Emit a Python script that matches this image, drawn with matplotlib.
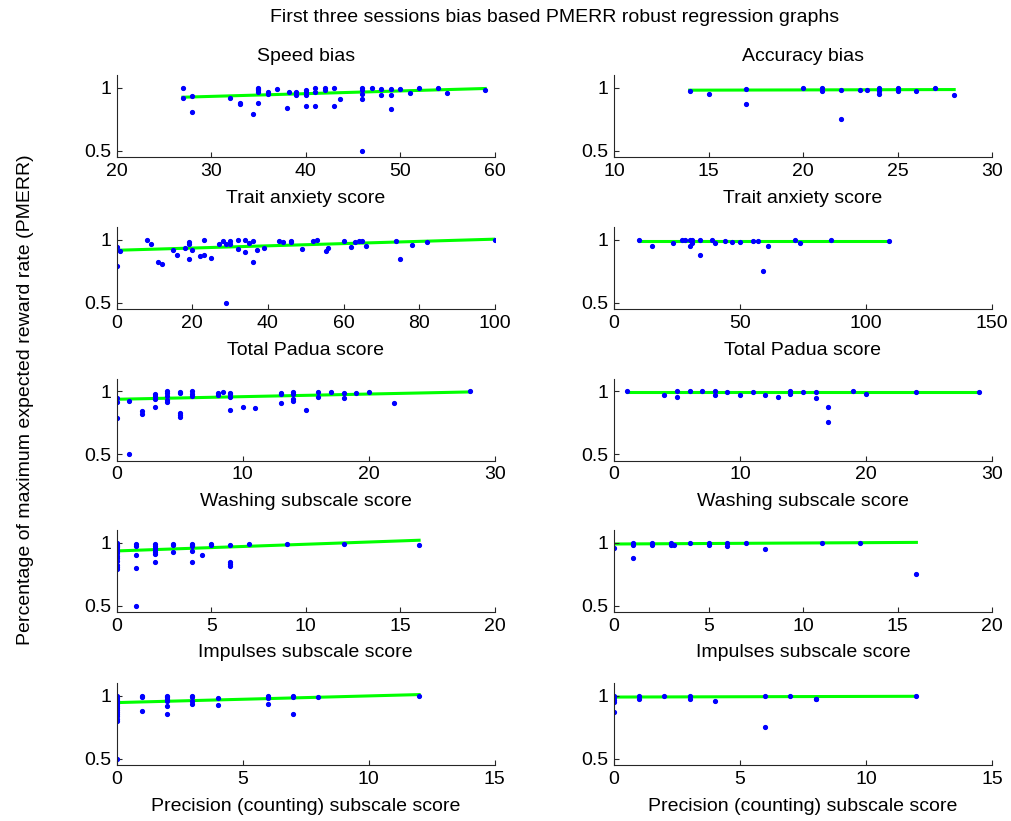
import matplotlib
matplotlib.use('Agg')
import matplotlib.pyplot as plt
import numpy as np

plt.rcParams['font.family'] = ['Liberation Sans', 'DejaVu Sans']

# Speed bias / Trait anxiety
sp_anx_x = [27, 27, 28, 28, 32, 33, 33, 34.4, 35, 35, 35, 35, 35, 36, 36, 37, 38, 38.2, 39, 39,
            40, 40, 40, 40, 41, 41, 41, 42, 42, 43, 43, 43.6, 46, 46, 46, 46, 46, 47, 48, 48,
            49, 49, 49, 50, 51, 52, 54, 55, 59]
sp_anx_y = [1.0, 0.918, 0.934, 0.81, 0.92, 0.88, 0.875, 0.795, 1.0, 0.99, 0.98, 0.97, 0.884, 0.97, 0.95, 0.995, 0.837, 0.97, 0.97, 0.94,
            0.98, 0.966, 0.945, 0.86, 1.0, 0.97, 0.858, 1.0, 0.98, 1.0, 0.858, 0.913, 1.0, 0.98, 0.95, 0.91, 0.5, 1.0, 0.995, 0.94,
            0.995, 0.947, 0.834, 0.995, 0.96, 1.0, 0.997, 0.963, 0.98]

# Accuracy bias / Trait anxiety
ac_anx_x = [14, 15, 17, 17, 20, 21, 21, 22, 22, 23, 23.4, 24, 24, 24, 25, 25, 26, 27, 28]
ac_anx_y = [0.974, 0.953, 0.995, 0.87, 1.0, 1.0, 0.974, 0.987, 0.753, 0.987, 0.987, 1.0, 0.974, 0.955, 1.0, 0.974, 0.974, 1.0, 0.947]

# Speed bias / Total Padua
sp_pad_x = [0, 0, 1, 8, 9, 11, 12, 15, 16, 18, 19, 19, 19, 20, 22, 23, 23, 25, 27, 28, 29, 29, 30, 30,
            32, 32, 34, 34, 35, 36, 36, 37, 39, 43, 44, 46, 46, 49, 52, 53, 55.4, 56, 60, 62, 63, 64, 65, 66,
            74, 75, 78, 82, 100]
sp_pad_y = [0.947, 0.795, 0.91, 1.0, 0.968, 0.827, 0.806, 0.918, 0.883, 0.939, 0.987, 0.968, 0.851, 0.918, 0.872, 0.997, 0.88, 0.856, 0.965, 0.995, 0.5, 0.965, 0.99, 0.97,
            0.997, 0.93, 0.997, 0.907, 0.973, 0.99, 0.822, 0.923, 0.936, 0.992, 0.981, 0.992, 0.98, 0.93, 0.99, 0.997, 0.91, 0.939, 0.995, 0.944, 0.987, 0.99, 0.995, 0.955,
            0.99, 0.851, 0.96, 0.987, 1.0]

# Accuracy bias / Total Padua
ac_pad_x = [10, 15, 23.5, 27, 28, 30, 30, 31, 31, 34, 34, 39, 40, 44, 47, 50, 55, 57, 59, 61, 72, 74, 86, 109]
ac_pad_y = [1.0, 0.955, 0.979, 1.0, 1.0, 1.0, 0.955, 0.979, 1.0, 1.0, 0.877, 1.0, 0.976, 0.992, 0.981, 0.984, 0.989, 0.989, 0.751, 0.949, 1.0, 0.973, 1.0, 0.995]

# Speed bias / Washing
sp_wash_x = [0, 0, 0, 1, 1, 2, 2, 3, 3, 3, 3, 4, 4, 4, 4, 4, 5, 5, 5, 5, 5, 6, 6, 6, 8, 8, 8.4,
             9, 9, 9, 9, 10, 11, 13, 13, 13, 14, 14, 14, 14, 15, 16, 16, 17, 18, 18, 19, 20, 22, 28]
sp_wash_y = [0.947, 0.916, 0.79, 0.921, 0.5, 0.847, 0.82, 0.979, 0.963, 0.942, 0.879, 1.0, 0.984, 0.963, 0.932, 0.916,
             0.995, 0.987, 0.832, 0.816, 0.8, 1.0, 0.979, 0.96, 0.99, 0.968, 0.992,
             0.99, 0.976, 0.958, 0.855, 0.879, 0.871, 0.99, 0.976, 0.908, 0.997, 0.982, 0.939, 0.924, 0.853,
             0.995, 0.958, 0.995, 0.987, 0.945, 0.987, 0.995, 0.908, 1.0]

# Accuracy bias / Washing
ac_wash_x = [1, 4, 5, 5, 6, 7, 8, 8, 9, 10, 11, 12, 13, 14, 14, 15, 16, 16, 17, 17, 19, 20, 24, 29]
ac_wash_y = [1.0, 0.973, 1.0, 0.957, 1.0, 1.0, 1.0, 0.973, 0.995, 0.973, 0.997, 0.968, 0.955, 1.0, 0.979, 0.992,
             0.995, 0.95, 0.872, 0.753, 1.0, 0.981, 0.997, 0.995]

# Speed bias / Impulses
sp_imp_x = [0] * 13 + [1] * 5 + [2] * 7 + [3] * 3 + [4] * 5 + [4.5, 5, 5, 6, 6, 6, 6, 7, 9, 12, 16]
sp_imp_y = [0.995, 0.984, 0.974, 0.963, 0.947, 0.931, 0.915, 0.894, 0.878, 0.857, 0.825, 0.804, 0.79,
            0.987, 0.971, 0.902, 0.802, 0.5,
            0.992, 0.976, 0.96, 0.939, 0.923, 0.907, 0.849,
            0.992, 0.981, 0.929,
            0.992, 0.981, 0.971, 0.934, 0.849,
            0.905, 0.992, 0.979, 0.981, 0.849, 0.831, 0.815, 0.992, 0.992, 0.989, 0.984]

# Accuracy bias / Impulses
ac_imp_x = [0, 1, 1, 1, 2, 2, 3, 3, 3.2, 4, 5, 5, 6, 6, 7, 8, 11, 13, 16]
ac_imp_y = [0.957, 1.0, 0.984, 0.876, 1.0, 0.981, 0.995, 0.978, 0.978, 0.997, 1.0, 0.984, 1.0, 0.973, 1.0, 0.952, 1.0, 0.995, 0.753]

# Speed bias / Precision
sp_pre_x = [0] * 14 + [1] * 3 + [2] * 6 + [3] * 4 + [4, 4, 6, 6, 6, 7, 7, 7, 8, 12]
sp_pre_y = [1.0, 0.984, 0.968, 0.952, 0.937, 0.921, 0.905, 0.889, 0.873, 0.857, 0.841, 0.82, 0.8, 0.5,
            1.0, 0.989, 0.881,
            1.0, 0.995, 0.979, 0.963, 0.923, 0.86,
            1.0, 0.989, 0.958, 0.937,
            0.981, 0.931, 0.997, 0.984, 0.939, 1.0, 0.989, 0.857, 0.995, 1.0]

# Accuracy bias / Precision
ac_pre_x = [0, 0, 0, 0, 0, 1, 1, 2, 3, 3, 4, 6, 6, 7, 8, 8, 12]
ac_pre_y = [1.0, 0.989, 0.968, 0.952, 0.876, 1.0, 0.976, 1.0, 1.0, 0.979, 0.958, 1.0, 0.757, 1.0, 0.976, 0.972, 0.997]

# robust fit lines: (intercept, slope)
fits = [(0.868, 0.00216), (0.977, 0.00036),
        (0.918, 0.00088), (0.992, 0.0),
        (0.937, 0.00207), (0.992, 0.0),
        (0.934, 0.0053), (0.989, 0.0008),
        (0.947, 0.0053), (0.991, 0.0005)]

data = [(sp_anx_x, sp_anx_y), (ac_anx_x, ac_anx_y),
        (sp_pad_x, sp_pad_y), (ac_pad_x, ac_pad_y),
        (sp_wash_x, sp_wash_y), (ac_wash_x, ac_wash_y),
        (sp_imp_x, sp_imp_y), (ac_imp_x, ac_imp_y),
        (sp_pre_x, sp_pre_y), (ac_pre_x, ac_pre_y)]

xlabels = ['Trait anxiety score', 'Total Padua score', 'Washing subscale score',
           'Impulses subscale score', 'Precision (counting) subscale score']
xlims = [[(20, 60), (10, 30)], [(0, 100), (0, 150)], [(0, 30), (0, 30)],
         [(0, 20), (0, 20)], [(0, 15), (0, 15)]]
xticks = [[np.arange(20, 61, 10), np.arange(10, 31, 5)],
          [np.arange(0, 101, 20), np.arange(0, 151, 50)],
          [np.arange(0, 31, 10), np.arange(0, 31, 10)],
          [np.arange(0, 21, 5), np.arange(0, 21, 5)],
          [np.arange(0, 16, 5), np.arange(0, 16, 5)]]

W, H = 1011, 821
fig = plt.figure(figsize=(W / 100, H / 100), dpi=100)

lefts = [116.7, 614]
width = 378
bottoms = [157.3, 309.3, 460.7, 612, 765.3]
height = 82
fs = 14

for r in range(5):
    for c in range(2):
        ax = fig.add_axes([lefts[c] / W, 1 - bottoms[r] / H, width / W, height / H])
        x, y = data[r * 2 + c]
        a, b = fits[r * 2 + c]
        xx = np.array([min(x), max(x)])
        ax.plot(xx, a + b * xx, color=(0, 1, 0), lw=2.2, zorder=1)
        ax.plot(x, y, '.', color=(0, 0, 1), markersize=5.5, zorder=2)
        ax.set_xlim(xlims[r][c])
        ax.set_ylim(0.45, 1.1)
        ax.set_xticks(xticks[r][c])
        ax.set_yticks([0.5, 1])
        ax.set_yticklabels(['0.5', '1'])
        ax.spines['top'].set_visible(False)
        ax.spines['right'].set_visible(False)
        for s in ['left', 'bottom']:
            ax.spines[s].set_color('#262626')
            ax.spines[s].set_linewidth(0.8)
        ax.tick_params(direction='in', length=3.5, width=0.8, labelsize=fs, colors='#262626',
                       labelcolor='black', pad=4)
        ax.set_xlabel(xlabels[r], fontsize=fs, labelpad=7)
        if r == 0:
            ax.set_title(['Speed bias', 'Accuracy bias'][c], fontsize=fs, pad=10)

# suptitle is centred over the two columns of axes
fig.text((116.7 + 992) / 2 / W, 1 - 18 / H,
         'First three sessions bias based PMERR robust regression graphs',
         ha='center', va='center', fontsize=fs)
fig.text(26 / W, 1 - 400 / H, 'Percentage of maximum expected reward rate (PMERR)',
         rotation=90, ha='center', va='center', fontsize=fs)

fig.savefig('out.png', dpi=100)
